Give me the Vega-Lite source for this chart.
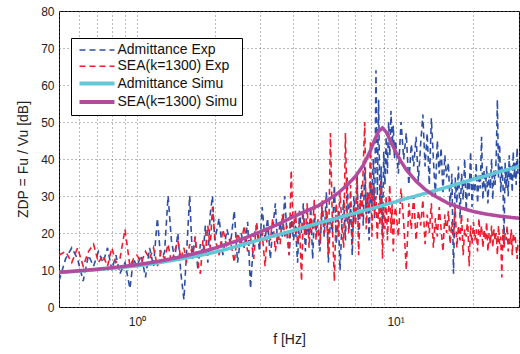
{
 "$schema": "https://vega.github.io/schema/vega-lite/v6.json",
 "width": 460,
 "height": 296,
 "autosize": {"type": "none"},
 "padding": {"left": 59, "top": 11, "right": 1, "bottom": 47},
 "background": "white",
 "config": {"view": {"stroke": "black", "strokeWidth": 1}, "font": "Liberation Sans"},
 "encoding": {
  "x": {"field": "f", "type": "quantitative", "title": "f [Hz]",
   "scale": {"type": "log", "domain": [0.5, 30], "nice": false},
   "axis": {"values": [0.5,0.6,0.7,0.8,0.9,1,2,3,4,5,6,7,8,9,10,20,30],
    "labelExpr": "datum.value == 1 ? '10⁰' : (datum.value == 10 ? '10¹' : '')",
    "grid": true, "gridDash": [1, 3], "gridColor": "#666", "gridOpacity": 0.9,
    "ticks": false, "domain": false, "labelFontSize": 12, "labelColor": "#222",
    "labelPadding": 9, "labelOverlap": false, "labelFlush": false,
    "titleFontSize": 14, "titleFontWeight": "normal", "titleColor": "#222", "titlePadding": 5}},
  "y": {"field": "z", "type": "quantitative", "title": "ZDP = Fu / Vu [dB]",
   "scale": {"domain": [0, 80], "nice": false},
   "axis": {"values": [0,10,20,30,40,50,60,70,80], "grid": true, "gridDash": [1, 3], "gridColor": "#666", "gridOpacity": 0.9,
    "ticks": false, "domain": false, "labelFontSize": 12, "labelColor": "#222", "labelPadding": 5,
    "titleFontSize": 14, "titleFontWeight": "normal", "titleColor": "#222", "titlePadding": 10}},
  "color": {"field": "s", "type": "nominal",
   "scale": {"domain": ["a","b","c","d"], "range": ["#2f4fa6", "#ee1c2e", "#62c8d8", "#b24a9e"]},
   "legend": {"title": null, "orient": "none", "legendX": 12, "legendY": 27,
    "labelExpr": "datum.value == 'a' ? 'Admittance Exp' : (datum.value == 'b' ? 'SEA(k=1300) Exp' : (datum.value == 'c' ? 'Admittance Simu' : 'SEA(k=1300) Simu'))",
    "symbolType": "M-0.4,0H3.6", "symbolSize": 306, "labelFontSize": 14, "labelColor": "#111",
    "strokeColor": "black", "fillColor": "white", "padding": 5, "labelOffset": 27.5, "rowPadding": 2.3,
    "encode": {"symbols": {"update": {"strokeWidth": {"signal": "datum.value == 'c' || datum.value == 'd' ? 4 : 1.6"}}}}}},
  "strokeDash": {"field": "s", "type": "nominal",
   "scale": {"domain": ["a","b","c","d"], "range": [[6,4],[6,4],[1,0],[1,0]]},
   "legend": {"title": null}}
 },
 "layer": [
  {
   "data": {"values": [
    {"f":0.50,"a":7,"b":14},{"f":0.53,"a":13,"b":15},{"f":0.56,"a":16,"b":12},{"f":0.59,"a":13,"b":16},
    {"f":0.62,"a":7,"b":11},{"f":0.65,"a":14,"b":15},{"f":0.68,"a":11,"b":17},{"f":0.71,"a":15,"b":12},
    {"f":0.74,"a":12,"b":14},{"f":0.77,"a":16,"b":11},{"f":0.80,"a":10,"b":16},{"f":0.83,"a":14,"b":12},
    {"f":0.86,"a":9,"b":13},{"f":0.90,"a":12,"b":21},{"f":0.94,"a":5,"b":11},{"f":0.97,"a":13,"b":13},
    {"f":1.00,"a":11,"b":14},{"f":1.04,"a":14,"b":12},{"f":1.08,"a":8,"b":15},{"f":1.12,"a":16,"b":13},
    {"f":1.16,"a":11,"b":16},{"f":1.20,"a":24,"b":11},{"f":1.24,"a":12,"b":15},{"f":1.28,"a":15,"b":13},
    {"f":1.32,"a":30,"b":17},{"f":1.36,"a":18,"b":12},{"f":1.40,"a":13,"b":15},{"f":1.44,"a":20,"b":18},
    {"f":1.48,"a":9,"b":13},{"f":1.52,"a":2,"b":16},{"f":1.56,"a":16,"b":12},{"f":1.60,"a":30,"b":17},
    {"f":1.64,"a":13,"b":14},{"f":1.68,"a":19,"b":19},{"f":1.72,"a":10,"b":12},{"f":1.76,"a":17,"b":9},
    {"f":1.80,"a":14,"b":18},{"f":1.84,"a":22,"b":14},{"f":1.88,"a":12,"b":22},{"f":1.92,"a":25,"b":16},
    {"f":1.96,"a":30,"b":27},
    {"f":2.00,"a":18,"b":19},{"f":2.08,"a":24,"b":14},{"f":2.15,"a":14,"b":21},{"f":2.23,"a":21,"b":16},
    {"f":2.30,"a":17,"b":18},{"f":2.38,"a":26,"b":12},{"f":2.45,"a":12,"b":20},{"f":2.53,"a":20,"b":17},
    {"f":2.60,"a":16,"b":22},{"f":2.68,"a":23,"b":15},{"f":2.75,"a":5,"b":19},{"f":2.83,"a":19,"b":13},
    {"f":2.90,"a":22,"b":23},{"f":2.98,"a":15,"b":17},{"f":3.05,"a":27,"b":20},{"f":3.13,"a":18,"b":11},
    {"f":3.20,"a":24,"b":21},{"f":3.28,"a":13,"b":18},{"f":3.35,"a":21,"b":24},{"f":3.43,"a":28,"b":15},
    {"f":3.50,"a":17,"b":20},{"f":3.58,"a":23,"b":17},{"f":3.65,"a":19,"b":25},{"f":3.73,"a":30,"b":19},
    {"f":3.80,"a":20,"b":22},{"f":3.88,"a":14,"b":14},{"f":3.95,"a":25,"b":37},{"f":4.03,"a":18,"b":20},
    {"f":4.10,"a":22,"b":26},{"f":4.18,"a":12,"b":17},{"f":4.25,"a":26,"b":23},{"f":4.33,"a":20,"b":7},
    {"f":4.40,"a":28,"b":25},{"f":4.48,"a":15,"b":19},{"f":4.55,"a":23,"b":28},{"f":4.63,"a":19,"b":16},
    {"f":4.70,"a":27,"b":24},{"f":4.78,"a":13,"b":21},{"f":4.85,"a":24,"b":29},{"f":4.93,"a":21,"b":18},
    {"f":5.0,"a":22,"b":24},{"f":5.1,"a":15,"b":17},{"f":5.2,"a":27,"b":29},{"f":5.3,"a":19,"b":20},
    {"f":5.4,"a":31,"b":26},{"f":5.5,"a":12,"b":14},{"f":5.6,"a":24,"b":47},{"f":5.7,"a":20,"b":22},
    {"f":5.8,"a":33,"b":7},{"f":5.9,"a":17,"b":28},{"f":6.0,"a":26,"b":19},{"f":6.1,"a":10,"b":31},
    {"f":6.2,"a":22,"b":22},{"f":6.3,"a":29,"b":16},{"f":6.4,"a":18,"b":47},{"f":6.5,"a":35,"b":25},
    {"f":6.6,"a":21,"b":20},{"f":6.7,"a":27,"b":33},{"f":6.8,"a":14,"b":17},{"f":6.9,"a":30,"b":27},
    {"f":7.0,"a":23,"b":22},{"f":7.1,"a":36,"b":35},{"f":7.2,"a":19,"b":14},{"f":7.3,"a":28,"b":29},
    {"f":7.4,"a":33,"b":24},{"f":7.5,"a":22,"b":38},{"f":7.6,"a":38,"b":50},{"f":7.7,"a":25,"b":21},
    {"f":7.8,"a":31,"b":31},{"f":7.9,"a":18,"b":26},{"f":8.0,"a":34,"b":45},{"f":8.1,"a":27,"b":19},
    {"f":8.2,"a":40,"b":33},{"f":8.3,"a":24,"b":25},{"f":8.4,"a":64,"b":30},{"f":8.5,"a":30,"b":18},
    {"f":8.6,"a":56,"b":28},{"f":8.7,"a":26,"b":22},{"f":8.8,"a":38,"b":34},{"f":8.9,"a":19,"b":13},
    {"f":9.0,"a":42,"b":27},{"f":9.1,"a":33,"b":21},{"f":9.2,"a":46,"b":30},{"f":9.3,"a":36,"b":18},
    {"f":9.4,"a":50,"b":26},{"f":9.5,"a":41,"b":33},{"f":9.6,"a":53,"b":20},{"f":9.7,"a":44,"b":28},
    {"f":9.8,"a":49,"b":15},{"f":9.9,"a":40,"b":25},
    {"f":10.00,"a":45,"b":27},{"f":10.25,"a":36,"b":19},{"f":10.50,"a":50,"b":32},{"f":10.75,"a":40,"b":23},
    {"f":11.00,"a":47,"b":10},{"f":11.25,"a":33,"b":28},{"f":11.50,"a":44,"b":21},{"f":11.75,"a":38,"b":30},
    {"f":12.00,"a":46,"b":18},{"f":12.25,"a":34,"b":26},{"f":12.50,"a":44,"b":22},{"f":12.75,"a":52,"b":29},
    {"f":13.00,"a":38,"b":17},{"f":13.25,"a":47,"b":25},{"f":13.50,"a":33,"b":20},{"f":13.75,"a":51,"b":28},
    {"f":14.00,"a":40,"b":16},{"f":14.25,"a":30,"b":24},{"f":14.50,"a":45,"b":19},{"f":14.75,"a":36,"b":27},
    {"f":15.00,"a":43,"b":21},{"f":15.25,"a":31,"b":15},{"f":15.50,"a":41,"b":25},{"f":15.75,"a":35,"b":20},
    {"f":16.00,"a":39,"b":26},{"f":16.25,"a":27,"b":17},{"f":16.50,"a":36,"b":23},{"f":16.75,"a":9,"b":19},
    {"f":17.00,"a":35,"b":27},{"f":17.25,"a":28,"b":16},{"f":17.50,"a":38,"b":22},{"f":17.75,"a":24,"b":18},
    {"f":18.00,"a":36,"b":25},{"f":18.25,"a":29,"b":14},{"f":18.50,"a":40,"b":21},{"f":18.75,"a":26,"b":19},
    {"f":19.00,"a":34,"b":24},{"f":19.25,"a":30,"b":11},{"f":19.50,"a":42,"b":22},{"f":19.75,"a":27,"b":17},
    {"f":20.00,"a":35,"b":23},{"f":20.25,"a":31,"b":18},{"f":20.50,"a":39,"b":21},{"f":20.75,"a":28,"b":15},
    {"f":21.00,"a":36,"b":24},{"f":21.25,"a":32,"b":19},{"f":21.50,"a":46,"b":22},{"f":21.75,"a":29,"b":16},
    {"f":22.00,"a":37,"b":21},{"f":22.25,"a":31,"b":18},{"f":22.50,"a":38,"b":23},{"f":22.75,"a":28,"b":15},
    {"f":23.00,"a":36,"b":20},{"f":23.25,"a":32,"b":17},{"f":23.50,"a":40,"b":22},{"f":23.75,"a":29,"b":16},
    {"f":24.00,"a":37,"b":21},{"f":24.25,"a":33,"b":18},{"f":24.50,"a":41,"b":20},{"f":24.75,"a":56,"b":14},
    {"f":25.00,"a":35,"b":22},{"f":25.25,"a":44,"b":17},{"f":25.50,"a":31,"b":19},{"f":25.75,"a":38,"b":8},
    {"f":26.00,"a":34,"b":21},{"f":26.25,"a":17,"b":16},{"f":26.50,"a":39,"b":20},{"f":26.75,"a":32,"b":18},
    {"f":27.00,"a":37,"b":22},{"f":27.25,"a":30,"b":15},{"f":27.50,"a":41,"b":19},{"f":27.75,"a":34,"b":17},
    {"f":28.00,"a":38,"b":21},{"f":28.25,"a":31,"b":14},{"f":28.50,"a":42,"b":20},{"f":28.75,"a":35,"b":18},
    {"f":29.00,"a":39,"b":19},{"f":29.25,"a":33,"b":16},{"f":29.50,"a":43,"b":13},{"f":29.75,"a":36,"b":18}
   ]},
   "transform": [{"fold": ["a", "b"], "as": ["s", "z"]}],
   "mark": {"type": "line", "clip": true, "strokeWidth": 1.6}
  },
  {
   "data": {"values": [
    {"f":0.5,"c":9.3,"d":9.4},{"f":0.6,"c":9.7,"d":9.8},{"f":0.7,"c":10.1,"d":10.2},{"f":0.8,"c":10.5,"d":10.6},
    {"f":0.9,"c":10.8,"d":11.0},{"f":1.0,"c":11.1,"d":11.4},{"f":1.2,"c":11.9,"d":12.3},{"f":1.4,"c":12.7,"d":13.2},
    {"f":1.6,"c":13.4,"d":14.1},{"f":1.8,"c":14.1,"d":15.0},{"f":2.0,"c":14.8,"d":15.9},{"f":2.5,"c":16.6,"d":18.1},
    {"f":3.0,"c":18.2,"d":20.3},{"f":3.5,"c":19.5,"d":22.3},{"f":4.0,"c":20.6,"d":24.3},{"f":4.5,"c":21.7,"d":25.9},
    {"f":5.0,"c":22.6,"d":27.3},{"f":5.5,"c":23.4,"d":29.0},{"f":6.0,"c":24.1,"d":30.8},{"f":6.5,"c":24.8,"d":33.0},
    {"f":7.0,"c":25.4,"d":35.3},{"f":7.5,"c":26.0,"d":38.3},{"f":8.0,"c":26.5,"d":42.3},{"f":8.3,"c":26.8,"d":45.2},
    {"f":8.6,"c":27.1,"d":47.5},{"f":8.9,"c":27.4,"d":48.4},{"f":9.2,"c":27.7,"d":47.3},{"f":9.5,"c":28.0,"d":45.3},
    {"f":10.0,"c":28.4,"d":42.0},{"f":10.5,"c":28.9,"d":39.3},{"f":11.0,"c":29.3,"d":37.1},{"f":12.0,"c":30.0,"d":34.0},
    {"f":13.0,"c":30.7,"d":31.8},{"f":14.0,"c":31.3,"d":30.2},{"f":16.0,"c":32.5,"d":28.0},{"f":18.0,"c":33.6,"d":26.7},
    {"f":20.0,"c":34.5,"d":25.8},{"f":22.0,"c":35.3,"d":25.2},{"f":25.0,"c":36.5,"d":24.6},{"f":28.0,"c":37.4,"d":24.2},
    {"f":30.0,"c":38.0,"d":24.0}
   ]},
   "transform": [{"fold": ["c", "d"], "as": ["s", "z"]}],
   "mark": {"type": "line", "clip": true, "strokeWidth": 3.5, "strokeCap": "round"}
  }
 ]
}
